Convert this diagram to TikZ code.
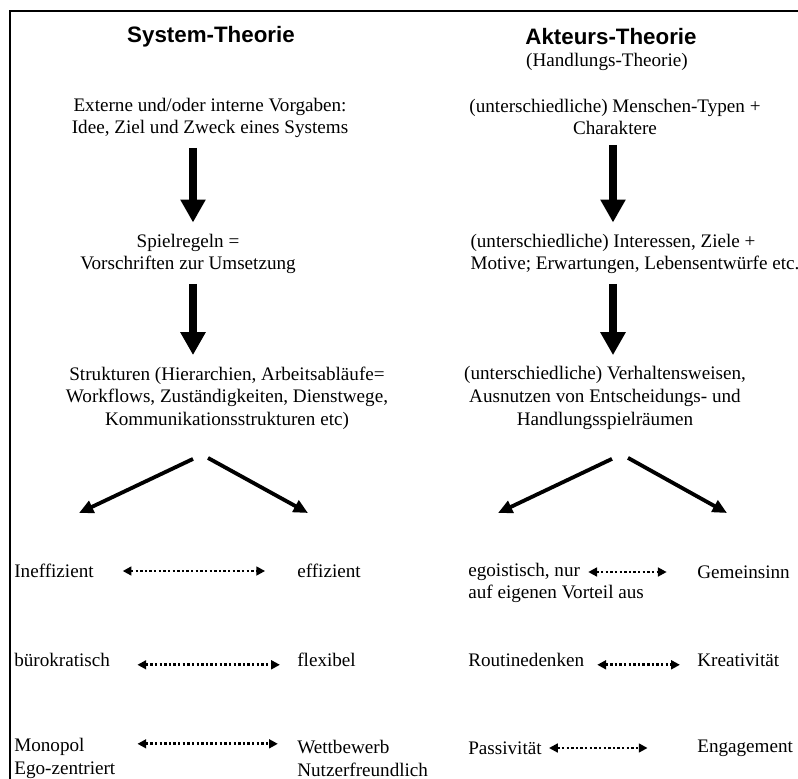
\documentclass[tikz,border=0pt]{standalone}
\usepackage{fontspec}
\setmainfont{Liberation Serif}
\newfontfamily\headfont{Liberation Sans}
\usetikzlibrary{arrows.meta, positioning, calc}
\tikzset{
  heading/.style={font=\headfont\bfseries\fontsize{14}{17}\selectfont, inner sep=2pt},
  body/.style={font=\fontsize{12}{14.2}\selectfont, align=center, inner sep=2pt},
  rowtext/.style={font=\fontsize{12}{14.2}\selectfont, anchor=west, inner sep=0pt},
  bigarrow/.style={-{Triangle[length=14.4pt, width=15pt]}, line width=4.4pt},
  forkarrow/.style={-{Triangle[length=9pt, width=8pt]}, line width=2.4pt},
  dotarrow/.style={{Triangle[length=5.5pt, width=5.5pt]}-{Triangle[length=5.5pt, width=5.5pt]}, line width=1.7pt, dash pattern=on 1.5pt off 1.4pt},
  frame/.style={line width=1.2pt}
}

\begin{document}
\begin{tikzpicture}[x=0.627pt, y=-0.627pt]
    \useasboundingbox (0,0) rectangle (798,779);
    \draw[frame] (10,779) -- (10,11) -- (798,11);
    % System-Theorie
    \node[heading] (systitle) at (211,37) {System-Theorie};
    \node[body] (vorgaben) at (210,118) {Externe und/oder interne Vorgaben:\\Idee, Ziel und Zweck eines Systems};
    \node[body] (spielregeln) at (188,254) {Spielregeln =\\Vorschriften zur Umsetzung};
    \node[body] (strukturen) at (227,398) {Strukturen (Hierarchien, Arbeitsabläufe=\\Workflows, Zuständigkeiten, Dienstwege,\\Kommunikationsstrukturen etc)};
    \coordinate (sysaxis) at (193,0);
    \coordinate (sysL) at (79,513);
    \coordinate (sysR) at (308,513);
    \node[rowtext] (ineff) at (14,571) {Ineffizient};
    \node[rowtext] (eff) at (297,571) {effizient};
    \node[rowtext] (buero) at (14,660) {bürokratisch};
    \node[rowtext] (flex) at (297,660) {flexibel};
    \node[rowtext] (monopol) at (14,747) {Monopol};
    \node[rowtext] (egozent) at (14,770) {Ego-zentriert};
    \node[rowtext] (wettb) at (297,747) {Wettbewerb};
    \node[rowtext] (nutzer) at (297,770) {Nutzerfreundlich};
    % Akteurs-Theorie
    \node[heading] (akttitle) at (611,37) {Akteurs-Theorie};
    \node[body] (handlung) at (607,62) {(Handlungs-Theorie)};
    \node[body] (typen) at (615,117) {(unterschiedliche) Menschen-Typen +\\Charaktere};
    \node[body, align=left, anchor=west] (interessen) at (467,254) {(unterschiedliche) Interessen, Ziele +\\Motive; Erwartungen, Lebensentwürfe etc.};
    \node[body] (verhalten) at (605,398) {(unterschiedliche) Verhaltensweisen,\\Ausnutzen von Entscheidungs- und\\Handlungsspielräumen};
    \coordinate (aktaxis) at (613,0);
    \coordinate (aktL) at (498,513);
    \coordinate (aktR) at (727,513);
    \node[rowtext] (egoist) at (468,572) {egoistisch, nur};
    \node[rowtext] (vorteil) at (468,594) {auf eigenen Vorteil aus};
    \node[rowtext] (gemein) at (697,572) {Gemeinsinn};
    \node[rowtext] (routine) at (468,660) {Routinedenken};
    \node[rowtext] (kreativ) at (697,660) {Kreativität};
    \node[rowtext] (passiv) at (468,748) {Passivität};
    \node[rowtext] (engag) at (697,748) {Engagement};

    \draw[bigarrow, shorten <=4pt, shorten >=5pt] (vorgaben.south -| sysaxis) to (spielregeln.north -| sysaxis);
    \draw[bigarrow, shorten <=4pt, shorten >=5pt] (spielregeln.south -| sysaxis) to (strukturen.north -| sysaxis);
    \draw[forkarrow] ($(strukturen.south)+(-34,26)$) to (sysL);
    \draw[forkarrow] ($(strukturen.south)+(-19,25)$) to (sysR);
    \draw[dotarrow, shorten <=18pt, shorten >=20pt] (ineff.east) to (eff.west);
    \draw[dotarrow, shorten <=17pt, shorten >=10.7pt] ([yshift=-3pt]buero.east) to ([yshift=-3pt]flex.west);
    \draw[dotarrow, shorten <=33pt, shorten >=12pt] ([yshift=2pt]monopol.east) to ([yshift=2pt]wettb.west);

    \draw[bigarrow, shorten <=4pt, shorten >=5pt] (typen.south -| aktaxis) to (interessen.north -| aktaxis);
    \draw[bigarrow, shorten <=4pt, shorten >=5pt] (interessen.south -| aktaxis) to (verhalten.north -| aktaxis);
    \draw[forkarrow] ($(verhalten.south)+(7,26)$) to (aktL);
    \draw[forkarrow] ($(verhalten.south)+(23,25)$) to (aktR);
    \draw[dotarrow, shorten <=5pt, shorten >=19pt] (egoist.east) to (gemein.west);
    \draw[dotarrow, shorten <=8pt, shorten >=10.7pt] ([yshift=-3pt]routine.east) to ([yshift=-3pt]kreativ.west);
    \draw[dotarrow, shorten <=4.4pt, shorten >=31pt] (passiv.east) to (engag.west);
\end{tikzpicture}
\end{document}
